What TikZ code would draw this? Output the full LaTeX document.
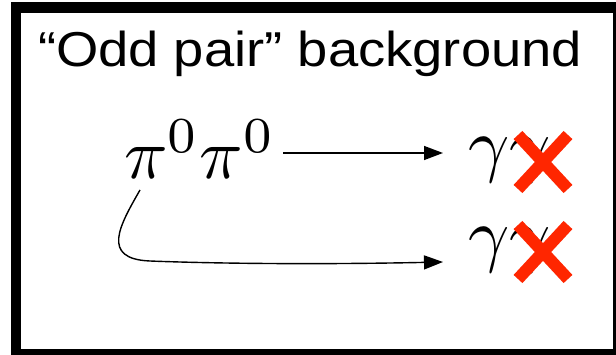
\documentclass[tikz,border=0pt]{standalone}
\usepackage[no-math]{fontspec}
\newfontfamily\titlefont{Liberation Sans}
\usetikzlibrary{arrows.meta,calc}
\definecolor{xred}{RGB}{255,38,0}
\tikzset{
  txt/.style={anchor=base west, inner sep=0pt, outer sep=0pt},
  arr/.style={line width=1.4pt, -{Triangle[length=19pt,width=14pt]}},
  redx/.style={draw=xred, line width=12pt},
}
\newcommand{\largemath}[1]{\scalebox{7.2}{$#1$}}
\begin{document}
\begin{tikzpicture}[x=1pt,y=-1pt]
\useasboundingbox (0,0) rectangle (616,355);
\fill[white] (0,0) rectangle (616,355);
% frame
\fill[black] (11,2) rectangle (616,355);
\fill[white] (21,13) rectangle (613,349);
% title
\node[txt] (title) at (38,67) {\titlefont\fontsize{49}{55}\selectfont\scalebox{1.11}[1]{“Odd pair” background}};
% pions
\node[txt] (p1) at (124,179) {\largemath{\pi^0}};
\node[txt] (p2) at ($(p1.base east)$) {\largemath{\pi^0}};
% photons
\node[txt] (g1) at (468,169) {\largemath{\gamma\gamma}};
\node[txt] (g2) at (468,259) {\largemath{\gamma\gamma}};
% red crosses
\coordinate (x1) at (543,162);
\coordinate (x2) at (543,252);
\draw[redx] ($(x1)+(-25,-27)$) -- ($(x1)+(25,27)$) ($(x1)+(25,-27)$) -- ($(x1)+(-25,27)$);
\draw[redx] ($(x2)+(-25,-27)$) -- ($(x2)+(25,27)$) ($(x2)+(25,-27)$) -- ($(x2)+(-25,27)$);
% arrows
\coordinate (a1s) at (283,153);
\draw[arr] (a1s) -- ($(g1.base west)+(-25,-16)$);
\coordinate (a2s) at (140,190);
\draw[arr] (a2s) .. controls (120,225) and (100,259) .. (150,261)
  .. controls (200,263) and (300,265) .. ($(g2.base west)+(-25,3)$);
\end{tikzpicture}
\end{document}
